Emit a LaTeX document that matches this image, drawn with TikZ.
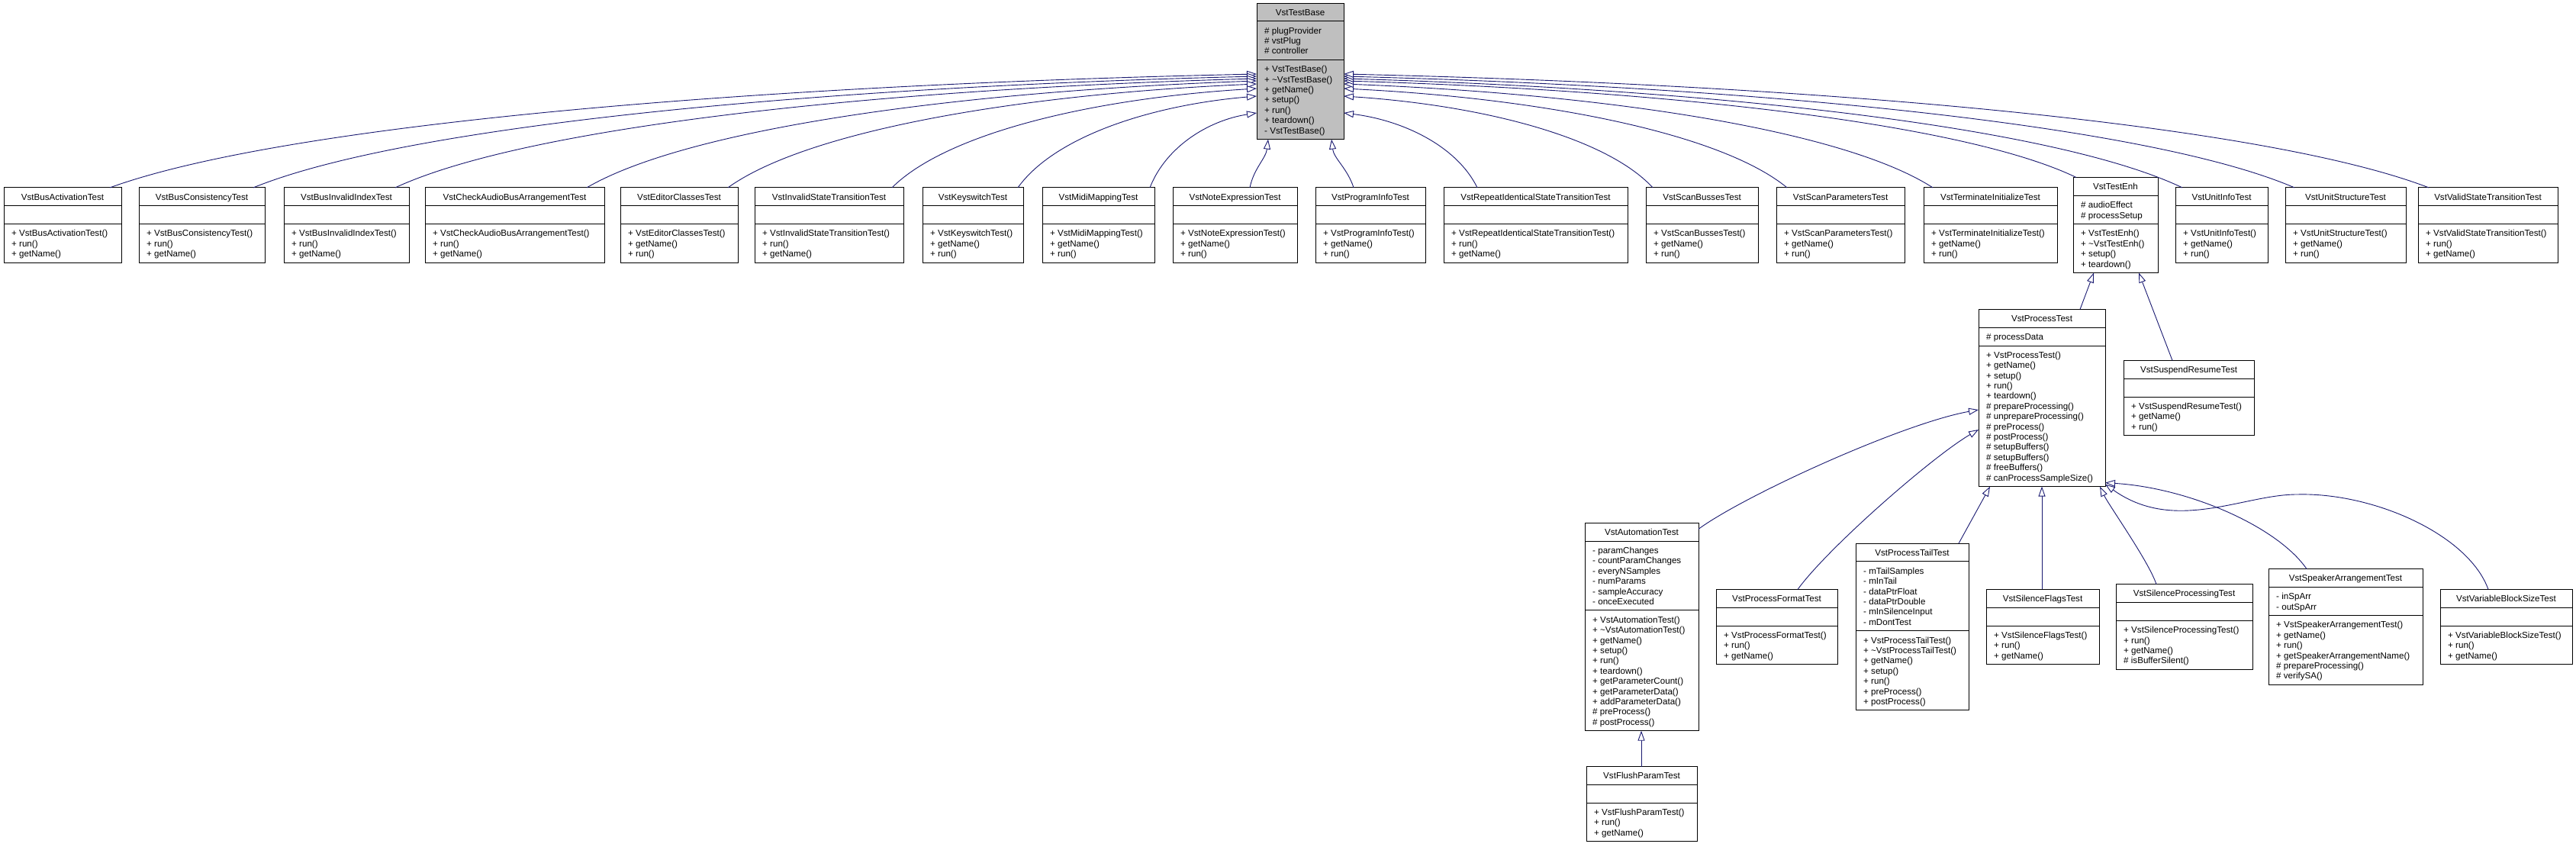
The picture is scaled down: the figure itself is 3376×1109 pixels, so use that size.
\documentclass[tikz,border=0pt]{standalone}
\usepackage{fontspec}
\setmainfont{Liberation Sans}
\usetikzlibrary{arrows.meta,calc}
\definecolor{edgeblue}{HTML}{191970}
\newcommand{\clsfont}{\fontsize{11.6}{13.4}\selectfont}
\tikzset{
 clsfill/.style={fill=white},
 clsbox/.style={draw=black, line width=1pt, inner sep=0pt, outer sep=0pt, anchor=north west, clsfill},
 clsline/.style={draw=black, line width=1pt},
 clstitle/.style={anchor=base, inner sep=0pt, font=\clsfont},
 clstext/.style={anchor=north west, inner sep=0pt, align=left, font=\clsfont},
 inh/.style={draw=edgeblue, line width=0.9pt, -{Triangle[fill=white, length=13pt, width=9pt]}},
}
% #1 name, #2 x, #3 y, #4 w, #5 nattr, #6 nmeth, #7 title, #8 attrs, #9 methods
\newcommand{\ucls}[9]{%
 \pgfmathsetmacro\hA{13.4*max(#5,1)+10.4}%
 \pgfmathsetmacro\hM{13.4*max(#6,1)+10.4}%
 \pgfmathsetmacro\hT{23.8+\hA+\hM}%
 \node[clsbox, minimum width=#4pt, minimum height=\hT pt] (#1) at (#2,#3) {};
 \draw[clsline] ($(#1.north west)+(0,23.8)$) -- ($(#1.north east)+(0,23.8)$);
 \draw[clsline] ($(#1.north west)+(0,23.8+\hA)$) -- ($(#1.north east)+(0,23.8+\hA)$);
 \node[clstitle] (#1-t) at ($(#1.north)+(0,16.1)$) {#7};
 \ifnum#5>0 \node[clstext] (#1-a) at ($(#1.north west)+(10,30.9)$) {\rule{0pt}{9pt}#8};\fi
 \node[clstext] (#1-m) at ($(#1.north west)+(10,30.9+\hA)$) {\rule{0pt}{9pt}#9};
}
\newcommand{\tedge}[2]{%
 \draw[inh] let \p1=(#1), \p2=(#2) in (\p1) .. controls (\x1+0.15*\x2-0.15*\x1, \y1+0.55*\y2-0.55*\y1) and (\x2-0.45*\x2+0.45*\x1, \y2-0.1*\y2+0.1*\y1) .. (\p2);
}
\begin{document}
\begin{tikzpicture}[x=1pt,y=-1pt]
\useasboundingbox (0,0) rectangle (3376,1109);
\begin{scope}[clsfill/.style={fill=black!25}]
\ucls{tb}{1647}{4}{114}{3}{7}{VstTestBase}{\# plugProvider\\\# vstPlug\\\# controller}{+ VstTestBase()\\+ \textasciitilde VstTestBase()\\+ getName()\\+ setup()\\+ run()\\+ teardown()\\- VstTestBase()}
\end{scope}
% rank 1
\ucls{bat}{5}{245.9}{154}{0}{3}{VstBusActivationTest}{}{+ VstBusActivationTest()\\+ run()\\+ getName()}
\ucls{bco}{182}{245.9}{165}{0}{3}{VstBusConsistencyTest}{}{+ VstBusConsistencyTest()\\+ run()\\+ getName()}
\ucls{bii}{372}{245.9}{164}{0}{3}{VstBusInvalidIndexTest}{}{+ VstBusInvalidIndexTest()\\+ run()\\+ getName()}
\ucls{cab}{557}{245.9}{235}{0}{3}{VstCheckAudioBusArrangementTest}{}{+ VstCheckAudioBusArrangementTest()\\+ run()\\+ getName()}
\ucls{edc}{813}{245.9}{154}{0}{3}{VstEditorClassesTest}{}{+ VstEditorClassesTest()\\+ getName()\\+ run()}
\ucls{ist}{989}{245.9}{195}{0}{3}{VstInvalidStateTransitionTest}{}{+ VstInvalidStateTransitionTest()\\+ run()\\+ getName()}
\ucls{ksw}{1209}{245.9}{132}{0}{3}{VstKeyswitchTest}{}{+ VstKeyswitchTest()\\+ getName()\\+ run()}
\ucls{mmt}{1366}{245.9}{147}{0}{3}{VstMidiMappingTest}{}{+ VstMidiMappingTest()\\+ getName()\\+ run()}
\ucls{nex}{1537}{245.9}{163}{0}{3}{VstNoteExpressionTest}{}{+ VstNoteExpressionTest()\\+ getName()\\+ run()}
\ucls{pit}{1724}{245.9}{144}{0}{3}{VstProgramInfoTest}{}{+ VstProgramInfoTest()\\+ getName()\\+ run()}
\ucls{rit}{1892}{245.9}{241}{0}{3}{VstRepeatIdenticalStateTransitionTest}{}{+ VstRepeatIdenticalStateTransitionTest()\\+ run()\\+ getName()}
\ucls{sbt}{2157}{245.9}{147}{0}{3}{VstScanBussesTest}{}{+ VstScanBussesTest()\\+ getName()\\+ run()}
\ucls{spt}{2328}{245.9}{168}{0}{3}{VstScanParametersTest}{}{+ VstScanParametersTest()\\+ getName()\\+ run()}
\ucls{tit}{2521}{245.9}{175}{0}{3}{VstTerminateInitializeTest}{}{+ VstTerminateInitializeTest()\\+ getName()\\+ run()}
\ucls{enh}{2717}{232.5}{111}{2}{4}{VstTestEnh}{\# audioEffect\\\# processSetup}{+ VstTestEnh()\\+ \textasciitilde VstTestEnh()\\+ setup()\\+ teardown()}
\ucls{uit}{2851}{245.9}{121}{0}{3}{VstUnitInfoTest}{}{+ VstUnitInfoTest()\\+ getName()\\+ run()}
\ucls{ust}{2995}{245.9}{158}{0}{3}{VstUnitStructureTest}{}{+ VstUnitStructureTest()\\+ getName()\\+ run()}
\ucls{vst}{3169}{245.9}{183}{0}{3}{VstValidStateTransitionTest}{}{+ VstValidStateTransitionTest()\\+ run()\\+ getName()}
% rank 2
\ucls{pt}{2593}{405.4}{166}{1}{13}{VstProcessTest}{\# processData}{+ VstProcessTest()\\+ getName()\\+ setup()\\+ run()\\+ teardown()\\\# prepareProcessing()\\\# unprepareProcessing()\\\# preProcess()\\\# postProcess()\\\# setupBuffers()\\\# setupBuffers()\\\# freeBuffers()\\\# canProcessSampleSize()}
\ucls{srt}{2783}{472.4}{171}{0}{3}{VstSuspendResumeTest}{}{+ VstSuspendResumeTest()\\+ getName()\\+ run()}
% rank 3
\ucls{aut}{2077}{685.3}{149}{6}{11}{VstAutomationTest}{- paramChanges\\- countParamChanges\\- everyNSamples\\- numParams\\- sampleAccuracy\\- onceExecuted}{+ VstAutomationTest()\\+ \textasciitilde VstAutomationTest()\\+ getName()\\+ setup()\\+ run()\\+ teardown()\\+ getParameterCount()\\+ getParameterData()\\+ addParameterData()\\\# preProcess()\\\# postProcess()}
\ucls{pft}{2249}{772.4}{159}{0}{3}{VstProcessFormatTest}{}{+ VstProcessFormatTest()\\+ run()\\+ getName()}
\ucls{ptt}{2432}{712.1}{148}{6}{7}{VstProcessTailTest}{- mTailSamples\\- mInTail\\- dataPtrFloat\\- dataPtrDouble\\- mInSilenceInput\\- mDontTest}{+ VstProcessTailTest()\\+ \textasciitilde VstProcessTailTest()\\+ getName()\\+ setup()\\+ run()\\+ preProcess()\\+ postProcess()}
\ucls{sft}{2603}{772.4}{148}{0}{3}{VstSilenceFlagsTest}{}{+ VstSilenceFlagsTest()\\+ run()\\+ getName()}
\ucls{spr}{2773}{765.7}{179}{0}{4}{VstSilenceProcessingTest}{}{+ VstSilenceProcessingTest()\\+ run()\\+ getName()\\\# isBufferSilent()}
\ucls{sat}{2973}{745.6}{202}{2}{6}{VstSpeakerArrangementTest}{- inSpArr\\- outSpArr}{+ VstSpeakerArrangementTest()\\+ getName()\\+ run()\\+ getSpeakerArrangementName()\\\# prepareProcessing()\\\# verifySA()}
\ucls{vbs}{3198}{772.4}{173}{0}{3}{VstVariableBlockSizeTest}{}{+ VstVariableBlockSizeTest()\\+ run()\\+ getName()}
% rank 4
\ucls{fpt}{2079}{1004.5}{145}{0}{3}{VstFlushParamTest}{}{+ VstFlushParamTest()\\+ run()\\+ getName()}
% edges to VstTestBase
\tedge{$(bat.north west)+(139,0)$}{$(tb.north west)+(0,93)$}
\tedge{$(bco.north west)+(150,0)$}{$(tb.north west)+(0,96)$}
\tedge{$(bii.north west)+(146,0)$}{$(tb.north west)+(0,99)$}
\tedge{$(cab.north west)+(212,0)$}{$(tb.north west)+(0,102)$}
\tedge{$(edc.north west)+(141,0)$}{$(tb.north west)+(0,106)$}
\tedge{$(ist.north west)+(180,0)$}{$(tb.north west)+(0,112)$}
\tedge{$(ksw.north west)+(125,0)$}{$(tb.north west)+(0,122)$}
\tedge{$(mmt.north west)+(141,0)$}{$(tb.north west)+(0,144)$}
\draw[inh] ($(nex.north west)+(101,0)$) .. controls +(5,-25) and +(-3,25) .. ($(tb.south west)+(15,0)$);
\draw[inh] ($(pit.north west)+(50,0)$) .. controls +(-8,-25) and +(3,25) .. ($(tb.south west)+(98,0)$);
\tedge{$(rit.north west)+(44,0)$}{$(tb.north east)+(0,144)$}
\tedge{$(sbt.north west)+(9,0)$}{$(tb.north east)+(0,122)$}
\tedge{$(spt.north west)+(14,0)$}{$(tb.north east)+(0,112)$}
\tedge{$(tit.north west)+(12,0)$}{$(tb.north east)+(0,106)$}
\tedge{$(enh.north west)+(4,0)$}{$(tb.north east)+(0,102)$}
\tedge{$(uit.north west)+(9,0)$}{$(tb.north east)+(0,99)$}
\tedge{$(ust.north west)+(12,0)$}{$(tb.north east)+(0,96)$}
\tedge{$(vst.north west)+(14,0)$}{$(tb.north east)+(0,93)$}
% edges to VstTestEnh
\draw[inh] ($(pt.north west)+(133,0)$) -- ($(enh.south west)+(27,0)$);
\draw[inh] ($(srt.north west)+(64,0)$) -- ($(enh.south west)+(86,0)$);
% edges to VstProcessTest
\draw[inh] ($(aut.north east)+(0,8)$) .. controls +(60,-44) and +(-100,18) .. ($(pt.north west)+(0,131.6)$);
\draw[inh] ($(pft.north west)+(107,0)$) .. controls +(40,-55) and +(-60,35) .. ($(pt.north west)+(0,157.6)$);
\draw[inh] ($(ptt.north west)+(135,0)$) -- ($(pt.south west)+(15,0)$);
\draw[inh] ($(sft.north west)+(73,0)$) -- ($(pt.south west)+(83,0)$);
\draw[inh] ($(spr.north west)+(53,0)$) .. controls +(-10,-30) and +(12,25) .. ($(pt.south west)+(159,0)$);
\draw[inh] ($(sat.north west)+(50,0)$) .. controls +(-38,-55) and +(111,7) .. ($(pt.south east)+(0,-5)$);
\coordinate (vbsmid) at (3010,648);
\draw[inh] ($(vbs.north west)+(63,0)$) .. controls +(-26,-72) and +(100,-3) .. (vbsmid) .. controls +(-70,0) and +(91,65) .. ($(pt.south east)+(0,-3)$);
% edge to VstAutomationTest
\draw[inh] ($(fpt.north west)+(72,0)$) -- ($(aut.south west)+(74,0)$);
\end{tikzpicture}
\end{document}
